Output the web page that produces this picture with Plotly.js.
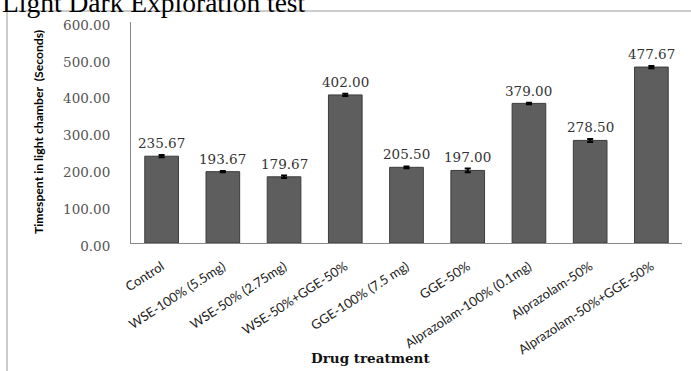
<!DOCTYPE html>
<html>
<head>
<meta charset="utf-8">
<script src="https://cdn.plot.ly/plotly-3.0.1.min.js"></script>
<style>html,body{margin:0;padding:0;background:#fff;}#chart{width:691px;height:371px;}</style>
</head>
<body>
<div id="chart"></div>
<script>
const categories = ["Control", "WSE-100% (5.5mg)", "WSE-50% (2.75mg)", "WSE-50%+GGE-50%", "GGE-100% (7.5 mg)", "GGE-50%", "Alprazolam-100% (0.1mg)", "Alprazolam-50%", "Alprazolam-50%+GGE-50%"];
const timeSpent = [235.67, 193.67, 179.67, 402.00, 205.50, 197.00, 379.00, 278.50, 477.67];
const errors = [3, 1.5, 3.5, 3, 2.5, 5, 2, 4, 3];
const valueLabels = ["235.67", "193.67", "179.67", "402.00", "205.50", "197.00", "379.00", "278.50", "477.67"];
const yTicks = [0, 100, 200, 300, 400, 500, 600];
const yTickLabels = ["0.00", "100.00", "200.00", "300.00", "400.00", "500.00", "600.00"];

const L = 131, R = 682, T = 22, B = 243, W = 691, H = 371;
const pw = R - L, ph = B - T;
const px = v => (v - L) / pw;
const py = v => (B - v) / ph;

const trace = {
  type: 'bar',
  x: categories,
  y: timeSpent,
  marker: {color: '#5e5e5e', line: {color: '#3c3c3c', width: 1}},
  error_y: {type: 'data', array: errors, visible: true, color: '#000', thickness: 2, width: 3},
  hoverinfo: 'none'
};

const annotations = categories.map((c, i) => ({
  x: c, y: timeSpent[i] + errors[i], xref: 'x', yref: 'y',
  text: valueLabels[i], showarrow: false, yanchor: 'bottom', yshift: 2,
  font: {family: 'DejaVu Serif, serif', size: 13.5, color: '#333'}
}));
annotations.push({
  xref: 'paper', yref: 'paper', x: px(0), y: py(20), xanchor: 'left', yanchor: 'bottom',
  text: 'Light Dark Exploration test', showarrow: false,
  font: {family: 'Liberation Serif, serif', size: 27.5, color: '#000'}
});
annotations.push({
  xref: 'paper', yref: 'paper', x: px(38), y: py(132), xanchor: 'center', yanchor: 'middle',
  text: 'Timespent in light chamber  (Seconds)', textangle: -90, showarrow: false,
  font: {family: 'Lato, sans-serif', size: 12.2, color: '#000', weight: 'bold'}
});
annotations.push({
  xref: 'paper', yref: 'paper', x: px(370), y: py(358), xanchor: 'center', yanchor: 'middle',
  text: 'Drug treatment', showarrow: false,
  font: {family: 'DejaVu Serif, serif', size: 13.5, color: '#111', weight: 'bold'}
});

const layout = {
  width: W, height: H,
  margin: {l: L, r: W - R, t: T, b: H - B, pad: 0},
  paper_bgcolor: '#fff', plot_bgcolor: '#fff',
  showlegend: false,
  bargap: 0.45,
  xaxis: {
    type: 'category', showline: true, linecolor: '#888', linewidth: 1,
    tickangle: -33, ticks: '', showgrid: false, zeroline: false,
    ticklabelstandoff: 10,
    tickfont: {family: 'Lato, sans-serif', size: 13, color: '#222'}
  },
  yaxis: {
    range: [0, 600], tickvals: yTicks, ticktext: yTickLabels,
    showline: true, linecolor: '#888', linewidth: 1, ticks: '', showgrid: false, zeroline: false,
    ticklabelstandoff: 17, ticklabelshift: 3,
    tickfont: {family: 'DejaVu Serif, serif', size: 13.5, color: '#555'}
  },
  annotations: annotations,
  shapes: [{
    type: 'rect', xref: 'paper', yref: 'paper',
    x0: px(7), x1: px(700), y0: py(380), y1: py(11),
    line: {color: '#999', width: 1}, fillcolor: 'rgba(0,0,0,0)', layer: 'below'
  }]
};

Plotly.newPlot('chart', [trace], layout, {staticPlot: true, displayModeBar: false});
</script>
</body>
</html>
